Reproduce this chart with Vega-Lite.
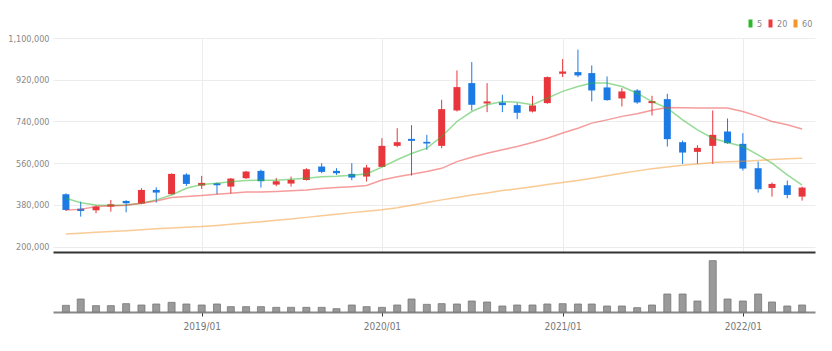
{
  "$schema": "https://vega.github.io/schema/vega-lite/v6.json",
  "background": "white",
  "padding": {"left": 5, "top": 19, "right": 10, "bottom": 5},
  "spacing": 0,
  "config": {
    "view": {"stroke": null},
    "font": "DejaVu Sans Condensed, Liberation Sans Narrow, sans-serif",
    "axis": {"labelFont": "DejaVu Sans Condensed, Liberation Sans Narrow, sans-serif", "labelColor": "#888", "labelFontSize": 9}
  },
  "data": {
    "values": [
      {"date": "2018-04-01", "open": 426200, "high": 430000, "low": 354000, "close": 358500, "volume": 200000, "5": 409000, "20": 358000, "60": 255000},
      {"date": "2018-05-01", "open": 364300, "high": 394500, "low": 329800, "close": 354200, "volume": 390000, "5": 390000, "20": 361000, "60": 258500},
      {"date": "2018-06-01", "open": 357100, "high": 377300, "low": 344100, "close": 372900, "volume": 190000, "5": 380000, "20": 373000, "60": 262000},
      {"date": "2018-07-01", "open": 372900, "high": 401700, "low": 351300, "close": 383000, "volume": 190000, "5": 379000, "20": 376000, "60": 265500},
      {"date": "2018-08-01", "open": 397400, "high": 400300, "low": 348500, "close": 387300, "volume": 250000, "5": 380000, "20": 379000, "60": 269000},
      {"date": "2018-09-01", "open": 385900, "high": 452100, "low": 383000, "close": 444900, "volume": 210000, "5": 387000, "20": 387000, "60": 273000},
      {"date": "2018-10-01", "open": 444900, "high": 456400, "low": 390200, "close": 433400, "volume": 240000, "5": 402000, "20": 397000, "60": 277000},
      {"date": "2018-11-01", "open": 426200, "high": 516000, "low": 425000, "close": 514000, "volume": 290000, "5": 423000, "20": 412000, "60": 280500},
      {"date": "2018-12-01", "open": 511100, "high": 516900, "low": 462200, "close": 470800, "volume": 240000, "5": 452000, "20": 416000, "60": 284000},
      {"date": "2019-01-01", "open": 463600, "high": 505400, "low": 449200, "close": 475200, "volume": 210000, "5": 468000, "20": 421000, "60": 287000},
      {"date": "2019-02-01", "open": 473700, "high": 476600, "low": 426200, "close": 465100, "volume": 240000, "5": 474000, "20": 426000, "60": 292000},
      {"date": "2019-03-01", "open": 459300, "high": 496700, "low": 429100, "close": 493800, "volume": 160000, "5": 480000, "20": 431000, "60": 297000},
      {"date": "2019-04-01", "open": 495300, "high": 527000, "low": 492400, "close": 524100, "volume": 160000, "5": 485000, "20": 436000, "60": 302500},
      {"date": "2019-05-01", "open": 527000, "high": 532700, "low": 455000, "close": 482300, "volume": 160000, "5": 487000, "20": 436000, "60": 308000},
      {"date": "2019-06-01", "open": 467900, "high": 496700, "low": 460700, "close": 482300, "volume": 140000, "5": 487000, "20": 438000, "60": 314000},
      {"date": "2019-07-01", "open": 472300, "high": 502500, "low": 459300, "close": 488100, "volume": 140000, "5": 491000, "20": 441000, "60": 320000},
      {"date": "2019-08-01", "open": 488100, "high": 538500, "low": 485200, "close": 534100, "volume": 140000, "5": 495000, "20": 445000, "60": 326500},
      {"date": "2019-09-01", "open": 545700, "high": 560100, "low": 516900, "close": 522600, "volume": 140000, "5": 502000, "20": 451000, "60": 333000},
      {"date": "2019-10-01", "open": 527000, "high": 538500, "low": 509700, "close": 516900, "volume": 100000, "5": 504000, "20": 455000, "60": 340000},
      {"date": "2019-11-01", "open": 514000, "high": 560100, "low": 486600, "close": 498200, "volume": 210000, "5": 508000, "20": 459000, "60": 347000},
      {"date": "2019-12-01", "open": 502500, "high": 552900, "low": 481000, "close": 541400, "volume": 160000, "5": 514000, "20": 464000, "60": 353000},
      {"date": "2020-01-01", "open": 544200, "high": 668000, "low": 543000, "close": 634900, "volume": 140000, "5": 543000, "20": 488000, "60": 359000},
      {"date": "2020-02-01", "open": 634900, "high": 711200, "low": 629200, "close": 650700, "volume": 210000, "5": 575000, "20": 502000, "60": 368000},
      {"date": "2020-03-01", "open": 665100, "high": 724200, "low": 506800, "close": 656500, "volume": 390000, "5": 602000, "20": 512000, "60": 379000},
      {"date": "2020-04-01", "open": 652200, "high": 682400, "low": 617600, "close": 645000, "volume": 230000, "5": 625000, "20": 524000, "60": 391000},
      {"date": "2020-05-01", "open": 634900, "high": 833500, "low": 624800, "close": 793200, "volume": 250000, "5": 675000, "20": 538000, "60": 402000},
      {"date": "2020-06-01", "open": 787500, "high": 960200, "low": 783200, "close": 888200, "volume": 240000, "5": 740000, "20": 567000, "60": 412000},
      {"date": "2020-07-01", "open": 905500, "high": 996200, "low": 787500, "close": 812000, "volume": 330000, "5": 783000, "20": 586000, "60": 423000},
      {"date": "2020-08-01", "open": 817700, "high": 905500, "low": 780300, "close": 826400, "volume": 300000, "5": 812000, "20": 603000, "60": 432000},
      {"date": "2020-09-01", "open": 822000, "high": 855100, "low": 780300, "close": 810500, "volume": 180000, "5": 826000, "20": 618000, "60": 442000},
      {"date": "2020-10-01", "open": 810500, "high": 819200, "low": 750100, "close": 777400, "volume": 210000, "5": 823000, "20": 632000, "60": 450000},
      {"date": "2020-11-01", "open": 783200, "high": 850800, "low": 778900, "close": 809100, "volume": 210000, "5": 812000, "20": 649000, "60": 459000},
      {"date": "2020-12-01", "open": 819200, "high": 934300, "low": 816300, "close": 931400, "volume": 240000, "5": 841000, "20": 668000, "60": 468000},
      {"date": "2021-01-01", "open": 945800, "high": 1009100, "low": 931400, "close": 955900, "volume": 250000, "5": 870000, "20": 690000, "60": 477000},
      {"date": "2021-02-01", "open": 953000, "high": 1049500, "low": 931400, "close": 938600, "volume": 240000, "5": 891000, "20": 711000, "60": 486000},
      {"date": "2021-03-01", "open": 948700, "high": 981800, "low": 826400, "close": 873800, "volume": 240000, "5": 906000, "20": 733000, "60": 495000},
      {"date": "2021-04-01", "open": 886800, "high": 934300, "low": 830000, "close": 832100, "volume": 180000, "5": 906000, "20": 747000, "60": 506000},
      {"date": "2021-05-01", "open": 839300, "high": 883900, "low": 804800, "close": 869500, "volume": 180000, "5": 891000, "20": 762000, "60": 517000},
      {"date": "2021-06-01", "open": 873800, "high": 879600, "low": 816300, "close": 822000, "volume": 130000, "5": 862000, "20": 773000, "60": 527000},
      {"date": "2021-07-01", "open": 819200, "high": 850800, "low": 765900, "close": 827800, "volume": 210000, "5": 826000, "20": 788000, "60": 536000},
      {"date": "2021-08-01", "open": 836400, "high": 859500, "low": 632000, "close": 663700, "volume": 540000, "5": 798000, "20": 800000, "60": 544000},
      {"date": "2021-09-01", "open": 650700, "high": 657900, "low": 557200, "close": 606100, "volume": 540000, "5": 747000, "20": 799000, "60": 551000},
      {"date": "2021-10-01", "open": 609000, "high": 637800, "low": 557200, "close": 626300, "volume": 330000, "5": 704000, "20": 798000, "60": 557000},
      {"date": "2021-11-01", "open": 634900, "high": 787500, "low": 557200, "close": 682400, "volume": 1540000, "5": 668000, "20": 798000, "60": 563000},
      {"date": "2021-12-01", "open": 696800, "high": 752900, "low": 643600, "close": 646400, "volume": 390000, "5": 649000, "20": 798000, "60": 566000},
      {"date": "2022-01-01", "open": 643600, "high": 689600, "low": 528400, "close": 537000, "volume": 330000, "5": 632000, "20": 783000, "60": 569000},
      {"date": "2022-02-01", "open": 538500, "high": 567300, "low": 433400, "close": 447800, "volume": 540000, "5": 596000, "20": 762000, "60": 572000},
      {"date": "2022-03-01", "open": 453500, "high": 476600, "low": 416100, "close": 470800, "volume": 300000, "5": 560000, "20": 740000, "60": 576000},
      {"date": "2022-04-01", "open": 465100, "high": 485200, "low": 408900, "close": 423300, "volume": 180000, "5": 510000, "20": 726000, "60": 579000},
      {"date": "2022-05-01", "open": 416100, "high": 459300, "low": 398800, "close": 455000, "volume": 210000, "5": 466000, "20": 708000, "60": 582000}
    ]
  },
  "vconcat": [
    {
      "width": 762,
      "height": 214,
      "layer": [
        {
          "mark": {"type": "rule", "strokeWidth": 1},
          "encoding": {
            "x": {"field": "date", "type": "temporal", "title": null,
              "scale": {"type": "utc", "domain": [{"year": 2018, "month": 3, "date": 16, "utc": true}, {"year": 2022, "month": 5, "date": 17, "utc": true}]},
              "axis": {"values": [{"year": 2019, "month": 1, "date": 1, "utc": true}, {"year": 2020, "month": 1, "date": 1, "utc": true}, {"year": 2021, "month": 1, "date": 1, "utc": true}, {"year": 2022, "month": 1, "date": 1, "utc": true}],
                "labels": false, "ticks": false, "grid": true, "gridColor": "#ececec", "domainColor": "#333", "domainWidth": 2, "title": null}},
            "y": {"field": "low", "type": "quantitative", "title": null,
              "scale": {"domain": [177200, 1100000], "nice": false, "zero": false},
              "axis": {"values": [200000, 380000, 560000, 740000, 920000, 1100000], "format": ",d", "domain": false, "ticks": false, "labelPadding": 4, "minExtent": 48, "maxExtent": 48, "gridColor": "#ececec", "title": null}},
            "y2": {"field": "high"},
            "color": {"condition": {"test": "datum.close >= datum.open", "value": "#e8363c"}, "value": "#1c7ae4"}
          }
        },
        {
          "mark": {"type": "bar", "size": 7},
          "encoding": {
            "x": {"field": "date", "type": "temporal", "title": null, "scale": {"type": "utc", "domain": [{"year": 2018, "month": 3, "date": 16, "utc": true}, {"year": 2022, "month": 5, "date": 17, "utc": true}]}},
            "y": {"field": "open", "type": "quantitative", "title": null, "scale": {"domain": [177200, 1100000], "nice": false, "zero": false},
              "axis": {"values": [200000, 380000, 560000, 740000, 920000, 1100000], "format": ",d", "domain": false, "ticks": false, "labelPadding": 4, "minExtent": 48, "maxExtent": 48, "gridColor": "#ececec", "title": null}},
            "y2": {"field": "close"},
            "color": {"condition": {"test": "datum.close >= datum.open", "value": "#e8363c"}, "value": "#1c7ae4"}
          }
        },
        {
          "transform": [{"fold": ["5", "20", "60"], "as": ["ma", "val"]}],
          "mark": {"type": "line", "strokeWidth": 1.5, "opacity": 0.5},
          "encoding": {
            "x": {"field": "date", "type": "temporal", "title": null, "scale": {"type": "utc", "domain": [{"year": 2018, "month": 3, "date": 16, "utc": true}, {"year": 2022, "month": 5, "date": 17, "utc": true}]}},
            "y": {"field": "val", "type": "quantitative", "title": null, "scale": {"domain": [177200, 1100000], "nice": false, "zero": false},
              "axis": {"values": [200000, 380000, 560000, 740000, 920000, 1100000], "format": ",d", "domain": false, "ticks": false, "labelPadding": 4, "minExtent": 48, "maxExtent": 48, "gridColor": "#ececec", "title": null}},
            "color": {"field": "ma", "type": "nominal",
              "scale": {"domain": ["5", "20", "60"], "range": ["#2eb82e", "#ee3a3a", "#f5962a"]},
              "legend": {"orient": "none", "legendX": 693, "legendY": -19, "direction": "horizontal", "columns": 3, "title": null, "gridAlign": "none",
                "symbolType": "M-0.5,-2V2M0.5,-2V2", "symbolSize": 16, "symbolStrokeWidth": 2, "symbolOpacity": 1,
                "labelFontSize": 9, "labelColor": "#888", "labelOffset": 2, "columnPadding": 2,
                "labelFont": "DejaVu Sans Condensed, Liberation Sans Narrow, sans-serif"}}
          }
        }
      ]
    },
    {
      "width": 762,
      "height": 60,
      "mark": {"type": "bar", "size": 7, "color": "#9a9a9a", "stroke": "#777", "strokeWidth": 0.8},
      "encoding": {
        "x": {"field": "date", "type": "temporal", "title": null,
          "scale": {"type": "utc", "domain": [{"year": 2018, "month": 3, "date": 16, "utc": true}, {"year": 2022, "month": 5, "date": 17, "utc": true}]},
          "axis": {"values": [{"year": 2019, "month": 1, "date": 1, "utc": true}, {"year": 2020, "month": 1, "date": 1, "utc": true}, {"year": 2021, "month": 1, "date": 1, "utc": true}, {"year": 2022, "month": 1, "date": 1, "utc": true}],
            "format": "%Y/%m", "grid": false, "domainColor": "#888", "domainWidth": 2, "tickColor": "#333", "tickSize": 4, "labelPadding": 5, "labelColor": "#777", "labelFontSize": 10, "title": null}},
        "y": {"field": "volume", "type": "quantitative", "title": null, "scale": {"domain": [0, 1800000], "nice": false}, "axis": {"labels": false, "ticks": false, "domain": false, "grid": false, "minExtent": 48, "maxExtent": 48, "title": null}}
      }
    }
  ]
}
